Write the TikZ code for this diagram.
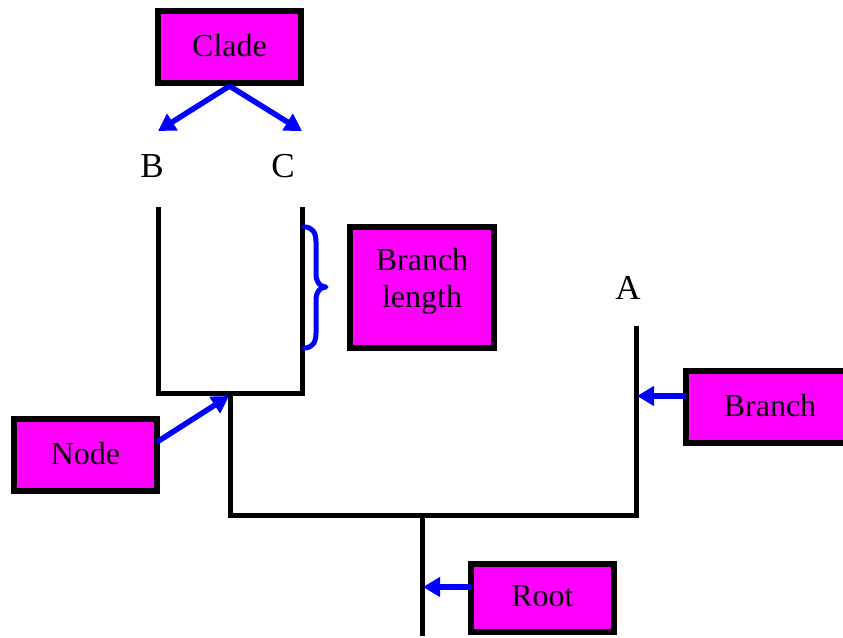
\documentclass[tikz,border=0pt]{standalone}
\usepackage{fontspec}
\setmainfont{Liberation Serif}
\usetikzlibrary{arrows.meta}
\definecolor{mag}{RGB}{255,0,255}
\definecolor{pblue}{RGB}{0,0,255}
\tikzset{
  lbox/.style={draw=black, line width=6pt, fill=mag, inner sep=0pt, align=center,
    font=\fontsize{32}{38}\selectfont},
  tree/.style={draw=black, line width=5pt},
  ptr/.style={draw=pblue, line width=5.5pt, -{Triangle[length=17pt,width=19pt]}},
  leaf/.style={inner sep=0pt, font=\fontsize{35}{40}\selectfont}
}
\begin{document}
\begin{tikzpicture}[x=1pt,y=-1pt]
\useasboundingbox (0,0) rectangle (843,637);
% boxes
\node[lbox, minimum width=143pt, minimum height=72pt] (clade) at (229.5,47) {\raisebox{4pt}{Clade}};
\node[lbox, minimum width=144pt, minimum height=121pt] (blen) at (422,287.5) {Branch\\[-1pt]length\rule[-19pt]{0pt}{0pt}};
\node[lbox, minimum width=143pt, minimum height=72pt] (nodebox) at (85.5,455) {\raisebox{4pt}{Node}};
\node[lbox, minimum width=168pt, minimum height=72pt] (branch) at (770,407) {\raisebox{4pt}{Branch}};
\node[lbox, minimum width=143pt, minimum height=68pt] (root) at (542.5,598) {\raisebox{4pt}{Root}};
% leaf labels
\node[leaf] (B) at (152,166) {B};
\node[leaf] (C) at (283,166) {C};
\node[leaf] (A) at (628,288) {A};
% tree coordinates
\coordinate (btop) at (158,207);
\coordinate (bbot) at (158,393);
\coordinate (ctop) at (302,207);
\coordinate (cbot) at (302,393);
\coordinate (n1) at (230,393);
\coordinate (n1b) at (230,515);
\coordinate (atop) at (636,326);
\coordinate (abot) at (636,515);
\coordinate (rtop) at (422,515);
\coordinate (rbot) at (422,636);
% tree
\draw[tree] (btop) -- (bbot) -- (cbot) -- (ctop);
\draw[tree] (n1) -- (n1b) -- (abot) -- (atop);
\draw[tree] (rtop) -- (rbot);
% arrow targets
\coordinate (tB) at (158,131);
\coordinate (tC) at (302,131);
\coordinate (tN) at (229,396);
\coordinate (tA) at (637,396);
\coordinate (tR) at (423,587);
\coordinate (sN) at (157,442);
\coordinate (sR) at (471,587);
\coordinate (sA) at (686,396);
% pointers
\draw[ptr] (clade.south) -- (tB);
\draw[ptr] (clade.south) -- (tC);
\draw[ptr] (sN) -- (tN);
\draw[ptr] (sA) -- (tA);
\draw[ptr] (sR) -- (tR);
% brace
\draw[pblue, line width=5pt, line cap=round, line join=round]
  (304,227) .. controls (312,227) and (316,232) .. (316,242)
  -- (316,274) .. controls (316,282) and (320,287) .. (326,287)
  .. controls (320,287) and (316,292) .. (316,300)
  -- (316,333) .. controls (316,343) and (312,348) .. (304,348);
\end{tikzpicture}
\end{document}
